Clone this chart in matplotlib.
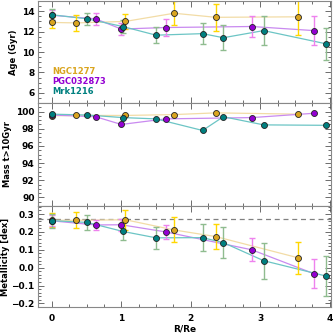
import numpy as np
import matplotlib
matplotlib.use("Agg")
import matplotlib.pyplot as plt
from matplotlib.ticker import MultipleLocator

# radii (R/Re) per galaxy
r_ngc = [0.0, 0.35, 1.06, 1.76, 2.36, 3.55]
r_pgc = [0.0, 0.63, 1.0, 1.64, 2.88, 3.77]
r_mrk = [0.0, 0.51, 1.02, 1.5, 2.17, 2.47, 3.05, 3.95]

# age (Gyr)
age_ngc = [12.9, 12.85, 13.0, 13.8, 13.4, 13.45]
age_ngc_err = [0.5, 0.75, 0.75, 1.2, 1.3, 1.8]
age_pgc = [13.6, 13.25, 12.25, 12.4, 12.5, 12.1]
age_pgc_err = [0.5, 0.6, 0.6, 0.8, 1.0, 1.4]
age_mrk = [13.65, 13.25, 12.5, 11.65, 11.8, 11.4, 12.1, 10.8]
age_mrk_err = [0.55, 0.6, 0.6, 0.8, 1.0, 1.2, 1.4, 1.6]

# mass fraction older than 10 Gyr
mass_ngc = [99.5, 99.55, 99.55, 99.65, 99.85, 99.7]
mass_pgc = [99.6, 99.4, 98.5, 99.15, 99.3, 99.8]
mass_mrk = [99.7, 99.6, 99.3, 99.15, 97.8, 99.4, 98.45, 98.4]

# metallicity [dex]
met_ngc = [0.265, 0.265, 0.268, 0.211, 0.174, 0.055]
met_ngc_err = [0.04, 0.045, 0.055, 0.07, 0.07, 0.09]
met_pgc = [0.262, 0.239, 0.24, 0.2, 0.1, -0.033]
met_pgc_err = [0.03, 0.03, 0.035, 0.04, 0.065, 0.08]
met_mrk = [0.263, 0.253, 0.203, 0.167, 0.168, 0.14, 0.039, -0.047]
met_mrk_err = [0.04, 0.04, 0.05, 0.06, 0.075, 0.085, 0.1, 0.11]

names = ["NGC1277", "PGC032873", "Mrk1216"]
mcol = ["#DAA520", "#9400D3", "#008080"]
lcol = ["#F2DCA6", "#C98AF0", "#6CC5C5"]
ecol = ["#FFD700", "#EE82EE", "#8FBC8F"]

plt.rcParams["font.family"] = ["DejaVu Sans"]
plt.rcParams["font.weight"] = "bold"
plt.rcParams["axes.linewidth"] = 0.8

fig = plt.figure(figsize=(3.34, 3.34), dpi=100)
W = 334.0
left, width = 38 / W, 293 / W
ax1 = fig.add_axes([left, 1 - 103 / W, width, 102 / W])
ax2 = fig.add_axes([left, 1 - 206 / W, width, 103 / W])
ax3 = fig.add_axes([left, 1 - 307 / W, width, 101 / W])

radii = [r_ngc, r_pgc, r_mrk]


def draw(ax, vals, errs=None):
    for i in range(3):
        ax.plot(radii[i], vals[i], color=lcol[i], lw=0.9, zorder=1)
        if errs is not None:
            ax.errorbar(radii[i], vals[i], yerr=errs[i], fmt="none",
                        ecolor=ecol[i], elinewidth=1.0, capsize=2, capthick=1.0, zorder=2)
    for i in range(3):
        ax.plot(radii[i], vals[i], "o", ms=4.3, mfc=mcol[i], mec="#222222",
                mew=0.6, ls="none", zorder=3)


draw(ax1, [age_ngc, age_pgc, age_mrk], [age_ngc_err, age_pgc_err, age_mrk_err])
draw(ax2, [mass_ngc, mass_pgc, mass_mrk])
draw(ax3, [met_ngc, met_pgc, met_mrk], [met_ngc_err, met_pgc_err, met_mrk_err])
ax3.axhline(0.27, color="gray", ls="--", lw=0.9, dashes=(4, 3), zorder=0)

ax1.set_ylim(5, 15)
ax1.yaxis.set_major_locator(MultipleLocator(2))
ax1.yaxis.set_minor_locator(MultipleLocator(0.5))
ax2.set_ylim(89, 101)
ax2.yaxis.set_major_locator(MultipleLocator(2))
ax2.yaxis.set_minor_locator(MultipleLocator(0.5))
ax3.set_ylim(-0.22, 0.345)
ax3.yaxis.set_major_locator(MultipleLocator(0.1))
ax3.yaxis.set_minor_locator(MultipleLocator(0.02))

for ax in (ax1, ax2, ax3):
    ax.set_xlim(-0.2, 4.02)
    ax.xaxis.set_major_locator(MultipleLocator(1))
    ax.xaxis.set_minor_locator(MultipleLocator(0.25))
    ax.tick_params(which="both", direction="in", top=True, right=True,
                   labelsize=6.5, width=0.6, colors="#555555", labelcolor="black", pad=2.5)
    ax.tick_params(which="major", length=4)
    ax.tick_params(which="minor", length=2)
    for s in ax.spines.values():
        s.set_color("#888888")
    if ax is not ax3:
        ax.tick_params(labelbottom=False)

ax3.set_yticks([0.3, 0.2, 0.1, 0.0, -0.1, -0.2])
ax3.set_yticklabels(["0.3", "0.2", "0.1", "0.0", "\u22120.1", "\u22120.2"])
ax3.tick_params(axis="x", pad=5)

ax1.set_ylabel("Age (Gyr)", fontsize=6, fontweight="bold", labelpad=3)
ax2.set_ylabel("Mass t>10Gyr", fontsize=6, fontweight="bold", labelpad=3)
ax3.set_ylabel("Metallicity [dex]", fontsize=6, fontweight="bold", labelpad=1)
ax3.set_xlabel("R/Re", fontsize=6.5, fontweight="bold", labelpad=1)

for i, (n, y) in enumerate(zip(names, [8.1, 7.1, 6.1])):
    ax1.text(0.0, y, n, color=mcol[i], fontsize=6, fontweight="bold", va="center")

fig.savefig("out.png", dpi=100)
